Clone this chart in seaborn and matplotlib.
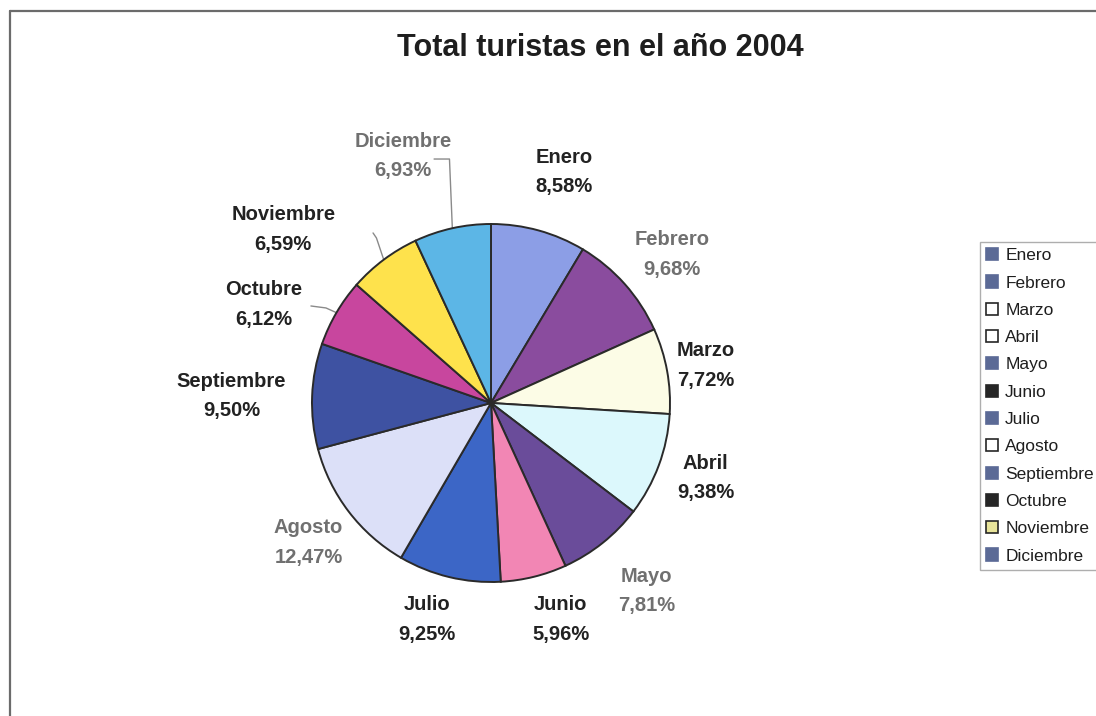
import matplotlib
matplotlib.use("Agg")
import numpy as np
import matplotlib.pyplot as plt
import seaborn as sns
from matplotlib.lines import Line2D
from matplotlib.patches import Patch

# --- data -------------------------------------------------------------
months = ["Enero", "Febrero", "Marzo", "Abril", "Mayo", "Junio", "Julio",
          "Agosto", "Septiembre", "Octubre", "Noviembre", "Diciembre"]
shares = [8.58, 9.68, 7.72, 9.38, 7.81, 5.96, 9.25, 12.47, 9.50, 6.12, 6.59, 6.93]

slice_colors = ["#8c9ee6", "#8a4c9e", "#fcfce6", "#dcf8fc", "#6a4c9a", "#f286b4",
                "#3c66c6", "#dce0f8", "#3e52a2", "#c8469e", "#fee24c", "#5cb6e6"]

# legend swatches (fill, edge)
legend_fill = ["#5b6a96", "#5b6a96", "#ffffff", "#ffffff", "#5b6a96", "#262626",
               "#5b6a96", "#ffffff", "#5b6a96", "#262626", "#e8e49a", "#5b6a96"]
legend_edge = ["#5b6a96", "#5b6a96", "#262626", "#262626", "#5b6a96", "#262626",
               "#5b6a96", "#262626", "#5b6a96", "#262626", "#262626", "#5b6a96"]

# --- layout (pixel canvas, pie radius units) --------------------------
W, H = 1096, 716
CX, CY, R = 491, 403, 179

# label centres relative to the pie centre, in radius units
label_pos = [(0.41, 1.29), (1.01, 0.83), (1.20, 0.21), (1.20, -0.42),
             (0.87, -1.05), (0.39, -1.21), (-0.36, -1.21), (-1.02, -0.78),
             (-1.45, 0.04), (-1.27, 0.55), (-1.16, 0.97), (-0.49, 1.38)]
muted = {"Febrero", "Mayo", "Agosto", "Diciembre"}
# leader lines: start and elbow points, the end lies on the slice edge
leaders = {
    "Diciembre": [(-0.318, 1.363), (-0.232, 1.363)],
    "Noviembre": [(-0.659, 0.950), (-0.640, 0.922)],
    "Octubre": [(-1.006, 0.542), (-0.922, 0.531)],
}

sns.set_theme(style="white")
plt.rcParams["font.family"] = ["Liberation Sans", "DejaVu Sans"]

fig = plt.figure(figsize=(W / 100, H / 100), dpi=100)
fig.patch.set_facecolor("white")
ax = fig.add_axes([0, 0, 1, 1])

palette = sns.color_palette(slice_colors)
wedges, _ = ax.pie(shares, colors=palette, startangle=90, counterclock=False,
                   radius=1.0,
                   wedgeprops=dict(edgecolor="#2a2a2a", linewidth=1.4))
ax.set_xlim(-CX / R, (W - CX) / R)
ax.set_ylim(-(H - CY) / R, CY / R)
ax.set_aspect("auto")
ax.axis("off")

for w, name, val, (lx, ly) in zip(wedges, months, shares, label_pos):
    pct = f"{val:.2f}".replace(".", ",") + "%"
    ax.text(lx, ly, f"{name}\n{pct}", ha="center", va="center",
            fontsize=14.5, linespacing=1.7, fontweight="bold",
            color="#707070" if name in muted else "#222222")
    if name in leaders:
        theta = np.deg2rad((w.theta1 + w.theta2) / 2)
        pts = leaders[name] + [(np.cos(theta), np.sin(theta))]
        xs, ys = zip(*pts)
        ax.plot(xs, ys, color="#8a8a8a", lw=1.0, zorder=0)

fig.text(600 / W, 1 - 48 / H, "Total turistas en el año 2004",
         ha="center", va="center", fontsize=22, fontweight="bold", color="#1e1e1e")

# chart frame (top and left edges)
frame_kw = dict(transform=fig.transFigure, color="#6b6b6b", lw=1.6)
fig.add_artist(Line2D([10 / W, 1], [1 - 11 / H, 1 - 11 / H], **frame_kw))
fig.add_artist(Line2D([10 / W, 10 / W], [0, 1 - 11 / H], **frame_kw))

handles = [Patch(facecolor=f, edgecolor=e, linewidth=1.2, label=m)
           for m, f, e in zip(months, legend_fill, legend_edge)]
leg = fig.legend(handles=handles, loc="upper left",
                 bbox_to_anchor=(980 / W, 1 - 242 / H, 140 / W, 0.0),
                 mode="expand", fontsize=12.5, frameon=True, fancybox=False,
                 handlelength=0.7, handleheight=0.7, handletextpad=0.4,
                 labelspacing=0.7, borderpad=0.35, borderaxespad=0)
leg.get_frame().set_edgecolor("#9a9a9a")
leg.get_frame().set_linewidth(1.0)
for t in leg.get_texts():
    t.set_color("#1e1e1e")

fig.savefig("out.png", dpi=100, facecolor="white")
